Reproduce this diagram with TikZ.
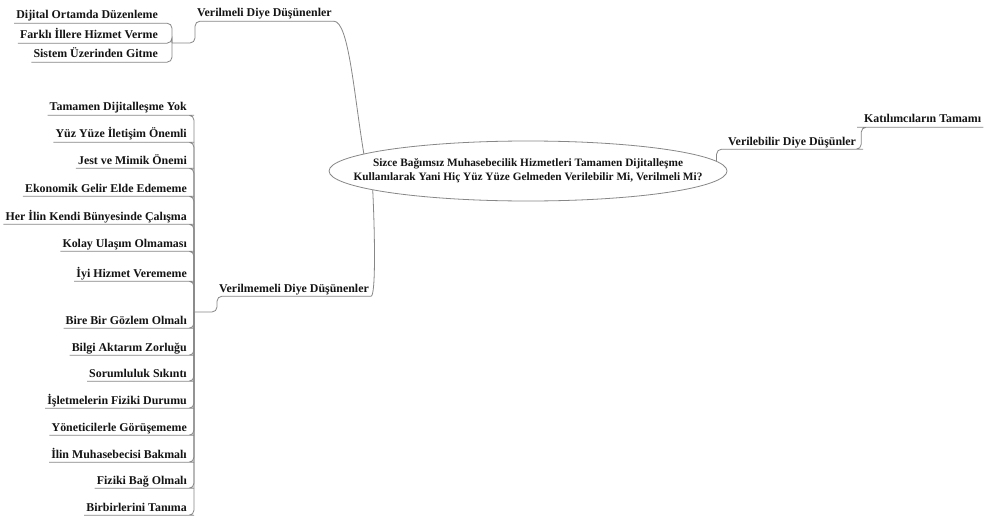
\documentclass[tikz,border=0pt]{standalone}
\usepackage{fontspec}
\setmainfont{Liberation Serif}
\usetikzlibrary{shapes.geometric}
\definecolor{linkgray}{RGB}{135,135,135}
\definecolor{inkblack}{RGB}{20,20,20}
\newcommand\topicsize{\fontsize{11.9}{13}\selectfont\bfseries}
\newcommand\centersize{\fontsize{11.3}{14}\selectfont\bfseries}

\begin{document}
\begin{tikzpicture}[x=1pt,y=-1pt,
  topic/.style={font=\topicsize, text=inkblack, inner xsep=2pt, inner ysep=1pt,
                text height=8pt, text depth=3pt},
  link/.style={draw=linkgray, line width=0.8pt, rounded corners=5pt},
  centraltopic/.style={ellipse, draw=linkgray, line width=0.8pt,
                minimum width=398pt, minimum height=60pt, inner sep=0pt},
  centraltext/.style={font=\centersize, text=inkblack, align=center, inner sep=0pt}]

% canvas
\fill[white] (0,0) rectangle (987,516);
\useasboundingbox (0,0) rectangle (987,516);

% central question
\node[centraltopic] (q) at (528,171) {};
\node[centraltext] (qt) at (q.center)
  {Sizce Bağımsız Muhasebecilik Hizmetleri Tamamen Dijitalleşme\\
   Kullanılarak Yani Hiç Yüz Yüze Gelmeden Verilebilir Mi, Verilmeli Mi?};

% main branches
\node[topic, anchor=base west] (should)    at (195,17)  {Verilmeli Diye Düşünenler};
\node[topic, anchor=base west] (shouldnot) at (217,292) {Verilmemeli Diye Düşünenler};
\node[topic, anchor=base west] (can)       at (726,145) {Verilebilir Diye Düşünler};
\node[topic, anchor=base west] (all)       at (862,123) {Katılımcıların Tamamı};

% joints of the bracket connectors
\coordinate (jtop) at (172,43);
\coordinate (jbot) at (194,312);

% sub-topics of "Verilmeli"
\node[topic, anchor=base east] (a1) at (160,19) {Dijital Ortamda Düzenleme};
\node[topic, anchor=base east] (a2) at (160,39) {Farklı İllere Hizmet Verme};
\node[topic, anchor=base east] (a3) at (160,58) {Sistem Üzerinden Gitme};

% sub-topics of "Verilmemeli"
\node[topic, anchor=base east] (b1)  at (189,111) {Tamamen Dijitalleşme Yok};
\node[topic, anchor=base east] (b2)  at (189,138) {Yüz Yüze İletişim Önemli};
\node[topic, anchor=base east] (b3)  at (189,164) {Jest ve Mimik Önemi};
\node[topic, anchor=base east] (b4)  at (189,192) {Ekonomik Gelir Elde Edememe};
\node[topic, anchor=base east] (b5)  at (189,220) {Her İlin Kendi Bünyesinde Çalışma};
\node[topic, anchor=base east] (b6)  at (189,247) {Kolay Ulaşım Olmaması};
\node[topic, anchor=base east] (b7)  at (189,277) {İyi Hizmet Verememe};
\node[topic, anchor=base east] (b8)  at (189,324) {Bire Bir Gözlem Olmalı};
\node[topic, anchor=base east] (b9)  at (189,351) {Bilgi Aktarım Zorluğu};
\node[topic, anchor=base east] (b10) at (189,377) {Sorumluluk Sıkıntı};
\node[topic, anchor=base east] (b11) at (189,404) {İşletmelerin Fiziki Durumu};
\node[topic, anchor=base east] (b12) at (189,431) {Yöneticilerle Görüşememe};
\node[topic, anchor=base east] (b13) at (189,458) {İlin Muhasebecisi Bakmalı};
\node[topic, anchor=base east] (b14) at (189,484) {Fiziki Bağ Olmalı};
\node[topic, anchor=base east] (b15) at (189,511) {Birbirlerini Tanıma};

% branch connectors with underlines
\draw[link] (jtop) -| (should.south west) -- (should.south east);
\draw[draw=linkgray, line width=0.8pt]
  (should.south east) .. controls +(15,0) and +(-10,-60) .. (q.174);

\draw[link] (jbot) -| (shouldnot.south west) -- (shouldnot.south east);
\draw[draw=linkgray, line width=0.8pt]
  (shouldnot.south east) .. controls +(5,0) and +(2,40) .. (q.187);

\draw[link] (q.3) |- (can.south west) -- (can.south east)
  -- ++(3,0) |- (all.south west) -- (all.south east);

% sub-topic connectors with underlines
\foreach \t in {a1,a2,a3}
  \draw[link] (jtop) |- (\t.south east) -- (\t.south west);
\foreach \t in {b1,b2,b3,b4,b5,b6,b7,b8,b9,b10,b11,b12,b13,b14,b15}
  \draw[link] (jbot) |- (\t.south east) -- (\t.south west);

\end{tikzpicture}
\end{document}
